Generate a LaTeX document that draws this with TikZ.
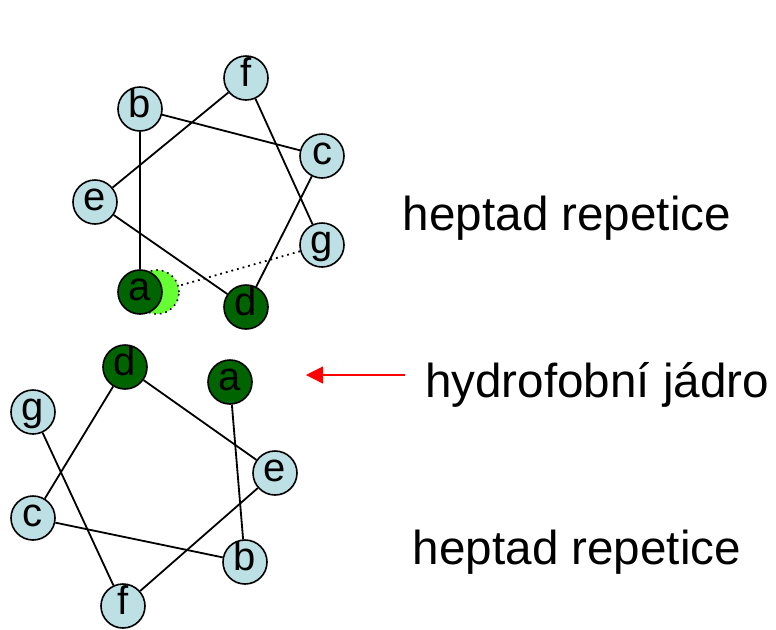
\documentclass[tikz,border=0pt]{standalone}
\usepackage{fontspec}
\setmainfont{Liberation Sans}
\usetikzlibrary{arrows.meta}
\definecolor{resc}{HTML}{BDE0E4}
\definecolor{corec}{HTML}{006400}
\definecolor{shadec}{HTML}{66FF33}
\begin{document}
\begin{tikzpicture}[x=0.5pt,y=-0.5pt,
  res/.style={circle,draw=black,line width=0.8pt,fill=resc,minimum size=22pt,inner sep=0pt,
    font=\fontsize{20}{20}\selectfont,text height=0.8em,text depth=0pt},
  core/.style={res,fill=corec},
  shadow/.style={circle,draw=black,dotted,line width=0.8pt,fill=shadec,minimum size=22pt,inner sep=0pt},
  link/.style={line width=0.9pt,black},
  lbl/.style={font=\fontsize{23.8}{28}\selectfont,inner sep=0pt}]
\useasboundingbox (0,0) rectangle (776,629);
% top wheel
\node[shadow] (sT) at (157,292) {};
\node[res] (fT) at (246,78) {f};
\node[res] (bT) at (140,109) {b};
\node[res] (cT) at (322,156) {c};
\node[res] (eT) at (95,202) {e};
\node[res] (gT) at (322,245) {g};
\node[core] (aT) at (140,292) {a};
\node[core] (dT) at (246,307) {d};
\draw[link] (aT) -- (bT);
\draw[link] (bT) -- (cT);
\draw[link] (cT) -- (dT);
\draw[link] (dT) -- (eT);
\draw[link] (eT) -- (fT);
\draw[link] (fT) -- (gT);
\draw[link,dotted] (gT) -- (sT);
% bottom wheel
\node[core] (dB) at (125,367) {d};
\node[core] (aB) at (230,382) {a};
\node[res] (gB) at (33,412) {g};
\node[res] (eB) at (275,473) {e};
\node[res] (cB) at (33,518) {c};
\node[res] (bB) at (245,562) {b};
\node[res] (fB) at (123,606) {f};
\draw[link] (aB) -- (bB);
\draw[link] (bB) -- (cB);
\draw[link] (cB) -- (dB);
\draw[link] (dB) -- (eB);
\draw[link] (eB) -- (fB);
\draw[link] (fB) -- (gB);
% labels
\node[lbl] (t1) at (567,218) {heptad repetice};
\node[lbl] (t2) at (597,385) {hydrofobní jádro};
\node[lbl] (t3) at (577,552) {heptad repetice};
\coordinate (arS) at (405,375);
\coordinate (arE) at (306,375);
\draw[red,line width=0.6pt,-{Triangle[length=8.5pt,width=8.5pt]}] (arS) -- (arE);
\end{tikzpicture}
\end{document}
